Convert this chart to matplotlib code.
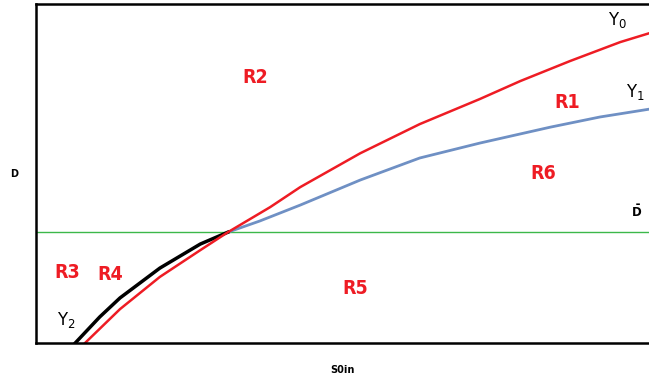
import matplotlib.pyplot as plt

# curve points
y0_x = [0.80, 1.37, 2.02, 2.68, 3.13, 3.82, 4.31, 5.29, 6.26, 7.24, 7.90, 8.71, 9.53, 10.0]
y0_y = [0.00, 1.00, 1.95, 2.74, 3.27, 4.01, 4.60, 5.60, 6.46, 7.20, 7.73, 8.32, 8.88, 9.14]

y1_x = [3.13, 3.65, 4.31, 5.29, 6.26, 7.24, 8.39, 9.20, 10.0]
y1_y = [3.27, 3.60, 4.07, 4.81, 5.46, 5.90, 6.37, 6.67, 6.90]

y2_x = [0.64, 1.04, 1.37, 2.02, 2.68, 3.13]
y2_y = [0.00, 0.77, 1.33, 2.21, 2.92, 3.27]

d_bar = 3.27

regions = ["R1", "R2", "R3", "R4", "R5", "R6"]
region_x = [8.66, 3.57, 0.51, 1.21, 5.20, 8.27]
region_y = [7.11, 7.85, 2.09, 2.01, 1.62, 5.01]

fig = plt.figure(figsize=(6.49, 3.78), dpi=100)
ax = fig.add_axes([0.0555, 0.0926, 0.9445, 0.8964])

ax.axhline(d_bar, color="#3cb84a", lw=1)
ax.plot(y1_x, y1_y, color="#6f90c4", lw=2, solid_joinstyle="round")
ax.plot(y2_x, y2_y, color="black", lw=2.5, solid_joinstyle="round")
ax.plot(y0_x, y0_y, color="#ee1c24", lw=1.8, solid_joinstyle="round")

for name, x, y in zip(regions, region_x, region_y):
    ax.text(x, y, name, color="#ee1c24", fontsize=14, fontweight="bold",
            family="DejaVu Sans", fontstretch="condensed", ha="center", va="center")

ax.text(9.49, 9.53, r"$\mathregular{\Upsilon_0}$", fontsize=12, ha="center", va="center")
ax.text(9.77, 7.40, r"$\mathregular{\Upsilon_1}$", fontsize=12, ha="center", va="center")
ax.text(0.49, 0.68, r"$\mathregular{\Upsilon_2}$", fontsize=12, ha="center", va="center")
ax.text(9.80, 3.86, r"$\bf{\bar{D}}$", fontsize=8.5, ha="center", va="center")

ax.set_xlim(0, 10)
ax.set_ylim(0, 10)
ax.set_xticks([])
ax.set_yticks([])
ax.spines["right"].set_visible(False)
for s in ["left", "bottom", "top"]:
    ax.spines[s].set_linewidth(1.8)

ax.set_xlabel("S0in", fontsize=7, fontweight="bold", labelpad=16)
ax.set_ylabel("D", fontsize=7, fontweight="bold", rotation=0, labelpad=16, va="center")

fig.savefig("out.png", dpi=100)
